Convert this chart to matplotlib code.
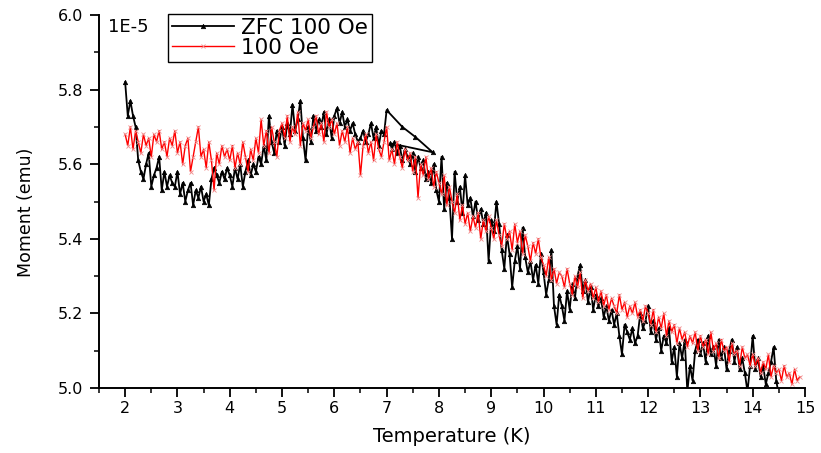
import matplotlib
matplotlib.use("Agg")
import matplotlib.pyplot as plt
from matplotlib.ticker import MultipleLocator, FixedLocator

# ---------------- data (moment in units of 1E-5 emu) ----------------
zfc_T = [
    2.00, 2.05, 2.10, 2.15, 2.20, 2.25, 2.30, 2.35, 2.40, 2.45, 2.50, 2.55, 2.60, 2.65, 2.70, 2.75, 2.80, 2.85, 2.90, 2.95,
    3.00, 3.05, 3.10, 3.15, 3.20, 3.25, 3.30, 3.35, 3.40, 3.45, 3.50, 3.55, 3.60, 3.65, 3.70, 3.75, 3.80, 3.85, 3.90, 3.95,
    4.00, 4.05, 4.10, 4.15, 4.20, 4.25, 4.30, 4.35, 4.40, 4.45, 4.50, 4.55, 4.60, 4.65, 4.70, 4.75, 4.80, 4.85, 4.90, 4.95,
    5.00, 5.05, 5.10, 5.15, 5.20, 5.25, 5.30, 5.35, 5.40, 5.45, 5.50, 5.55, 5.60, 5.65, 5.70, 5.75, 5.80, 5.85, 5.90, 5.95,
    6.00, 6.05, 6.10, 6.15, 6.20, 6.25, 6.30, 6.35, 6.40, 6.45, 6.50, 6.55, 6.60, 6.65, 6.70, 6.75, 6.80, 6.85, 6.90, 6.95,
    7.00, 7.30, 7.55, 7.88, 7.07,
    7.10, 7.15, 7.20, 7.25, 7.30, 7.35, 7.40, 7.45, 7.50, 7.55, 7.60, 7.65, 7.70, 7.75, 7.80, 7.85, 7.90, 7.95,
    8.00, 8.05, 8.10, 8.15, 8.20, 8.25, 8.30, 8.35, 8.40, 8.45, 8.50, 8.55, 8.60, 8.65, 8.70, 8.75, 8.80, 8.85, 8.90, 8.95,
    9.00, 9.05, 9.10, 9.15, 9.20, 9.25, 9.30, 9.35, 9.40, 9.45, 9.50, 9.55, 9.60, 9.65, 9.70, 9.75, 9.80, 9.85, 9.90, 9.95,
    10.00, 10.05, 10.10, 10.15, 10.20, 10.25, 10.30, 10.35, 10.40, 10.45, 10.50, 10.55, 10.60, 10.65, 10.70, 10.75, 10.80, 10.85, 10.90, 10.95,
    11.00, 11.05, 11.10, 11.15, 11.20, 11.25, 11.30, 11.35, 11.40, 11.45, 11.50, 11.55, 11.60, 11.65, 11.70, 11.75, 11.80, 11.85, 11.90, 11.95,
    12.00, 12.05, 12.10, 12.15, 12.20, 12.25, 12.30, 12.35, 12.40, 12.45, 12.50, 12.55, 12.60, 12.65, 12.70, 12.75, 12.80, 12.85, 12.90, 12.95,
    13.00, 13.05, 13.10, 13.15, 13.20, 13.25, 13.30, 13.35, 13.40, 13.45, 13.50, 13.55, 13.60, 13.65, 13.70, 13.75, 13.80, 13.85, 13.90, 13.95,
    14.00, 14.05, 14.10, 14.15, 14.20, 14.25, 14.30, 14.35, 14.40, 14.45, 14.50,
]
zfc_M = [
    5.82, 5.73, 5.77, 5.73, 5.70, 5.61, 5.58, 5.56, 5.60, 5.63, 5.54, 5.57, 5.59, 5.62, 5.53, 5.58, 5.54, 5.57, 5.55, 5.54,
    5.58, 5.52, 5.55, 5.50, 5.53, 5.55, 5.49, 5.53, 5.51, 5.54, 5.50, 5.52, 5.49, 5.56, 5.59, 5.57, 5.55, 5.58, 5.56, 5.59,
    5.57, 5.54, 5.59, 5.56, 5.60, 5.54, 5.58, 5.61, 5.57, 5.60, 5.58, 5.62, 5.60, 5.65, 5.61, 5.73, 5.66, 5.63, 5.69, 5.66,
    5.70, 5.65, 5.71, 5.68, 5.76, 5.69, 5.72, 5.77, 5.67, 5.61, 5.70, 5.66, 5.73, 5.69, 5.72, 5.70, 5.74, 5.68, 5.72, 5.67,
    5.73, 5.75, 5.71, 5.74, 5.70, 5.72, 5.69, 5.71, 5.68, 5.66, 5.67, 5.69, 5.66, 5.68, 5.71, 5.67, 5.70, 5.65, 5.69, 5.68,
    5.745, 5.70, 5.673, 5.632, 5.656,
    5.64, 5.66, 5.63, 5.65, 5.61, 5.64, 5.62, 5.60, 5.63, 5.58, 5.62, 5.59, 5.61, 5.56, 5.58, 5.55, 5.60, 5.53,
    5.50, 5.62, 5.48, 5.55, 5.51, 5.40, 5.58, 5.50, 5.54, 5.47, 5.57, 5.49, 5.51, 5.46, 5.50, 5.45, 5.48, 5.44, 5.47, 5.34,
    5.45, 5.42, 5.50, 5.44, 5.37, 5.32, 5.41, 5.36, 5.27, 5.34, 5.38, 5.32, 5.43, 5.35, 5.31, 5.34, 5.29, 5.33, 5.28, 5.36,
    5.31, 5.25, 5.29, 5.37, 5.22, 5.17, 5.25, 5.22, 5.18, 5.26, 5.21, 5.28, 5.24, 5.30, 5.33, 5.26, 5.29, 5.23, 5.27, 5.21,
    5.25, 5.22, 5.24, 5.19, 5.22, 5.18, 5.21, 5.17, 5.20, 5.14, 5.09, 5.17, 5.15, 5.13, 5.16, 5.12, 5.14, 5.20, 5.16, 5.18,
    5.22, 5.15, 5.18, 5.13, 5.16, 5.10, 5.14, 5.12, 5.16, 5.07, 5.11, 5.03, 5.12, 5.08, 5.13, 4.99, 5.06, 5.02, 5.10, 5.13,
    5.09, 5.12, 5.07, 5.14, 5.09, 5.11, 5.06, 5.13, 5.08, 5.11, 5.05, 5.10, 5.13, 5.07, 5.11, 5.05, 5.08, 5.04, 4.99, 5.06,
    5.14, 5.05, 5.08, 5.03, 5.06, 5.01, 5.04, 5.07, 5.11, 5.02, 4.98,
]

fc_T = [
    2.00, 2.05, 2.10, 2.15, 2.20, 2.25, 2.30, 2.35, 2.40, 2.45, 2.50, 2.55, 2.60, 2.65, 2.70, 2.75, 2.80, 2.85, 2.90, 2.95,
    3.00, 3.05, 3.10, 3.15, 3.20, 3.25, 3.30, 3.35, 3.40, 3.45, 3.50, 3.55, 3.60, 3.65, 3.70, 3.75, 3.80, 3.85, 3.90, 3.95,
    4.00, 4.05, 4.10, 4.15, 4.20, 4.25, 4.30, 4.35, 4.40, 4.45, 4.50, 4.55, 4.60, 4.65, 4.70, 4.75, 4.80, 4.85, 4.90, 4.95,
    5.00, 5.05, 5.10, 5.15, 5.20, 5.25, 5.30, 5.35, 5.40, 5.45, 5.50, 5.55, 5.60, 5.65, 5.70, 5.75, 5.80, 5.85, 5.90, 5.95,
    6.00, 6.05, 6.10, 6.15, 6.20, 6.25, 6.30, 6.35, 6.40, 6.45, 6.50, 6.55, 6.60, 6.65, 6.70, 6.75, 6.80, 6.85, 6.90, 6.95,
    7.00, 7.05, 7.10, 7.15, 7.20, 7.25, 7.30, 7.35, 7.40, 7.45, 7.50, 7.55, 7.60, 7.65, 7.70, 7.75, 7.80, 7.85, 7.90, 7.95,
    8.00, 8.05, 8.10, 8.15, 8.20, 8.25, 8.30, 8.35, 8.40, 8.45, 8.50, 8.55, 8.60, 8.65, 8.70, 8.75, 8.80, 8.85, 8.90, 8.95,
    9.00, 9.05, 9.10, 9.15, 9.20, 9.25, 9.30, 9.35, 9.40, 9.45, 9.50, 9.55, 9.60, 9.65, 9.70, 9.75, 9.80, 9.85, 9.90, 9.95,
    10.00, 10.05, 10.10, 10.15, 10.20, 10.25, 10.30, 10.35, 10.40, 10.45, 10.50, 10.55, 10.60, 10.65, 10.70, 10.75, 10.80, 10.85, 10.90, 10.95,
    11.00, 11.05, 11.10, 11.15, 11.20, 11.25, 11.30, 11.35, 11.40, 11.45, 11.50, 11.55, 11.60, 11.65, 11.70, 11.75, 11.80, 11.85, 11.90, 11.95,
    12.00, 12.05, 12.10, 12.15, 12.20, 12.25, 12.30, 12.35, 12.40, 12.45, 12.50, 12.55, 12.60, 12.65, 12.70, 12.75, 12.80, 12.85, 12.90, 12.95,
    13.00, 13.05, 13.10, 13.15, 13.20, 13.25, 13.30, 13.35, 13.40, 13.45, 13.50, 13.55, 13.60, 13.65, 13.70, 13.75, 13.80, 13.85, 13.90, 13.95,
    14.00, 14.05, 14.10, 14.15, 14.20, 14.25, 14.30, 14.35, 14.40, 14.45, 14.50, 14.55, 14.60, 14.65, 14.70, 14.75, 14.80, 14.85, 14.90,
]
fc_M = [
    5.68, 5.65, 5.70, 5.64, 5.69, 5.66, 5.63, 5.68, 5.65, 5.67, 5.62, 5.68, 5.66, 5.69, 5.64, 5.66, 5.62, 5.67, 5.65, 5.69,
    5.63, 5.66, 5.60, 5.65, 5.67, 5.58, 5.62, 5.66, 5.70, 5.62, 5.64, 5.59, 5.66, 5.61, 5.53, 5.63, 5.60, 5.65, 5.62, 5.64,
    5.61, 5.65, 5.59, 5.63, 5.60, 5.66, 5.62, 5.58, 5.64, 5.61, 5.67, 5.63, 5.72, 5.65, 5.69, 5.63, 5.70, 5.66, 5.62, 5.69,
    5.71, 5.67, 5.73, 5.66, 5.70, 5.68, 5.74, 5.65, 5.71, 5.69, 5.72, 5.67, 5.70, 5.73, 5.68, 5.71, 5.66, 5.74, 5.70, 5.72,
    5.68, 5.71, 5.65, 5.69, 5.66, 5.70, 5.63, 5.67, 5.64, 5.66, 5.57, 5.65, 5.68, 5.63, 5.66, 5.61, 5.68, 5.64, 5.62, 5.66,
    5.70, 5.61, 5.64, 5.60, 5.66, 5.62, 5.59, 5.64, 5.61, 5.63, 5.58, 5.62, 5.51, 5.60, 5.57, 5.62, 5.56, 5.59, 5.54, 5.58,
    5.55, 5.52, 5.57, 5.49, 5.54, 5.50, 5.47, 5.52, 5.45, 5.49, 5.44, 5.47, 5.42, 5.46, 5.43, 5.47, 5.40, 5.45, 5.42, 5.46,
    5.43, 5.40, 5.45, 5.41, 5.38, 5.44, 5.40, 5.42, 5.37, 5.44, 5.39, 5.42, 5.36, 5.41, 5.38, 5.34, 5.39, 5.36, 5.40, 5.35,
    5.33, 5.30, 5.35, 5.29, 5.32, 5.28, 5.31, 5.30, 5.27, 5.32, 5.28, 5.25, 5.30, 5.27, 5.31, 5.24, 5.29, 5.26, 5.28, 5.24,
    5.27, 5.23, 5.26, 5.22, 5.25, 5.21, 5.24, 5.22, 5.20, 5.25, 5.21, 5.23, 5.19, 5.22, 5.20, 5.23, 5.19, 5.21, 5.18, 5.22,
    5.20, 5.17, 5.21, 5.15, 5.19, 5.16, 5.20, 5.14, 5.18, 5.15, 5.17, 5.12, 5.16, 5.13, 5.15, 5.11, 5.14, 5.12, 5.15, 5.10,
    5.14, 5.11, 5.13, 5.09, 5.15, 5.10, 5.12, 5.08, 5.13, 5.10, 5.11, 5.07, 5.12, 5.09, 5.10, 5.06, 5.11, 5.08, 5.09, 5.06,
    5.09, 5.06, 5.08, 5.04, 5.07, 5.05, 5.09, 5.03, 5.06, 5.04, 5.05, 5.02, 5.06, 5.03, 5.04, 5.01, 5.05, 5.02, 5.03,
]

series_labels = ["ZFC 100 Oe", "100 Oe"]
x_ticks = [2, 3, 4, 5, 6, 7, 8, 9, 10, 11, 12, 13, 14, 15]
y_ticks = [5.0, 5.2, 5.4, 5.6, 5.8, 6.0]
y_tick_labels = ["5.0", "5.2", "5.4", "5.6", "5.8", "6.0"]
scale_label = "1E-5"
x_label = "Temperature (K)"
y_label = "Moment (emu)"

# ---------------- figure ----------------
plt.rcParams["font.family"] = ["DejaVu Sans"]
W, H = 821, 453
fig = plt.figure(figsize=(W / 100, H / 100), dpi=100)
ax = fig.add_axes([99 / W, 65 / H, 706 / W, 373 / H])

ax.plot(zfc_T, zfc_M, color="black", lw=1.3, marker="^", ms=3.2,
        mfc="black", mec="black", mew=0.5, label=series_labels[0], zorder=2)
ax.plot(fc_T, fc_M, color="#ff0000", lw=1.0, marker="x", ms=2.4,
        mec="#f08a8a", mew=0.6, label=series_labels[1], zorder=3)

ax.set_xlim(1.5, 15)
ax.set_ylim(5.0, 6.0)

for s in ("top", "right"):
    ax.spines[s].set_visible(False)
for s in ("left", "bottom"):
    ax.spines[s].set_linewidth(1.4)

ax.xaxis.set_major_locator(FixedLocator(x_ticks))
ax.xaxis.set_minor_locator(MultipleLocator(0.5))
ax.yaxis.set_major_locator(FixedLocator(y_ticks))
ax.set_yticklabels(y_tick_labels)
ax.yaxis.set_minor_locator(MultipleLocator(0.1))
ax.tick_params(axis="both", which="major", direction="out", length=6.5, width=1.3,
               labelsize=11.5, color="black")
ax.tick_params(axis="both", which="minor", direction="out", length=3.5, width=1.1)
ax.tick_params(axis="x", pad=3)
ax.tick_params(axis="y", pad=5)

ax.set_xlabel(x_label, fontsize=14)
ax.xaxis.set_label_coords(0.50, -0.105)
ax.set_ylabel(y_label, fontsize=12.5)
ax.yaxis.set_label_coords(-0.09, 0.47)

fig.text(108 / W, 1 - 27 / H, scale_label, fontsize=13, ha="left", va="center")

leg = ax.legend(loc="upper left", bbox_to_anchor=(168 / W, 1 - 14 / H),
                bbox_transform=fig.transFigure, fontsize=15.5, frameon=True,
                fancybox=False, edgecolor="black", framealpha=1,
                handlelength=2.9, handletextpad=0.3, labelspacing=0.0,
                borderpad=0.18, borderaxespad=0)
leg.get_frame().set_linewidth(1.0)

fig.savefig("out.png", dpi=100)
